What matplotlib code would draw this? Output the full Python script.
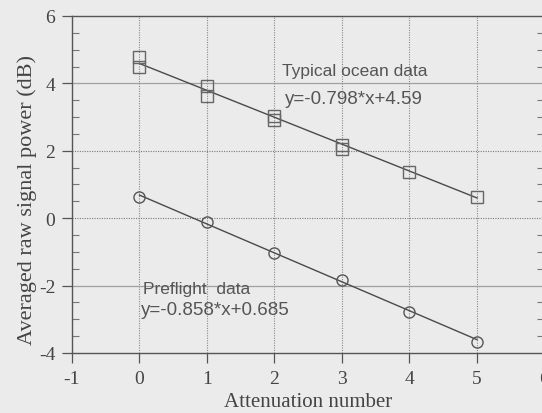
import matplotlib
matplotlib.use("Agg")
import matplotlib.pyplot as plt
import numpy as np

# Attenuation steps and measured averaged power (dB)
ocean_x = [0, 0, 1, 1, 2, 2, 3, 3, 4, 5]
ocean_y = [4.78, 4.49, 3.92, 3.63, 3.02, 2.9, 2.18, 2.05, 1.37, 0.62]
preflight_x = [0, 1, 2, 3, 4, 5]
preflight_y = [0.64, -0.12, -1.04, -1.83, -2.78, -3.67]

# Linear fits
ocean_fit = (-0.798, 4.59)
preflight_fit = (-0.858, 0.685)
fit_x = [0, 5]

xticks = [-1, 0, 1, 2, 3, 4, 5, 6]
yticks = [-4, -2, 0, 2, 4, 6]

bg = "#ebebeb"
ink = "#4a4a4a"
serif = ["Liberation Serif", "DejaVu Serif"]
sans = ["Liberation Sans", "DejaVu Sans"]

fig = plt.figure(figsize=(5.42, 4.14), dpi=100, facecolor=bg)
ax = fig.add_axes([0.1328, 0.145, 0.8718, 0.814], facecolor=bg)

ax.set_xlim(-1, 6)
ax.set_ylim(-4, 6)

# grid
for xv in xticks[1:-1]:
    ax.axvline(xv, color="#8a8a8a", lw=0.8, ls=(0, (1, 1.2)), zorder=1)
for yv in [2, 0]:
    ax.axhline(yv, color="#7a7a7a", lw=0.8, ls=(0, (1, 1.2)), zorder=1)
for yv in [4, -2]:
    ax.axhline(yv, color="#a0a0a0", lw=0.9, zorder=1)

fx = np.array(fit_x, dtype=float)
ax.plot(fx, ocean_fit[0] * fx + ocean_fit[1], color=ink, lw=1.0, zorder=3)
ax.plot(fx, preflight_fit[0] * fx + preflight_fit[1], color=ink, lw=1.0, zorder=3)

ax.plot(ocean_x, ocean_y, ls="none", marker="s", ms=8, mfc="none",
        mec="#666666", mew=1.0, zorder=4)
ax.plot(preflight_x, preflight_y, ls="none", marker="o", ms=8, mfc="none",
        mec="#555555", mew=1.0, zorder=4)

txt = dict(family=sans, color="#555555", va="center")
ax.text(2.11, 4.37, "Typical ocean data", fontsize=12.5, **txt)
ax.text(2.15, 3.54, "y=-0.798*x+4.59", fontsize=13.5, **txt)
ax.text(0.05, -2.1, "Preflight  data", fontsize=12.5, **txt)
ax.text(0.02, -2.72, "y=-0.858*x+0.685", fontsize=13.5, **txt)

for s in ["top", "bottom", "left", "right"]:
    ax.spines[s].set_color("#555555")
    ax.spines[s].set_linewidth(1.0)

ax.set_xticks(xticks)
ax.set_yticks(yticks)
ax.set_xticklabels([str(v) for v in xticks], family=serif, fontsize=14, color="#444444")
ax.set_yticklabels([str(v) for v in yticks], family=serif, fontsize=14, color="#444444")
ax.set_yticks(np.arange(-4, 6.01, 0.5), minor=True)
ax.tick_params(axis="both", which="major", direction="out", length=7, width=0.9,
               color="#555555", pad=5)
ax.tick_params(axis="y", which="minor", direction="in", length=5, width=0.8,
               color="#777777", right=True)

ax.set_xlabel("Attenuation number", family=serif, fontsize=15, color="#444444",
              va="center")
ax.set_ylabel("Averaged raw signal power (dB)", family=serif, fontsize=16,
              color="#444444", va="center")
ax.xaxis.set_label_coords(0.50, -0.145)
ax.yaxis.set_label_coords(-0.095, 0.457)

fig.savefig("out.png", dpi=100, facecolor=bg)
